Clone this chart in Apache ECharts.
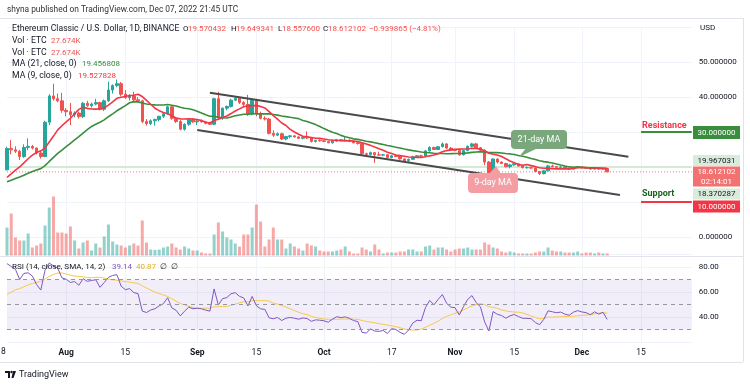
<!DOCTYPE html>
<html><head><meta charset="utf-8">
<script src="https://cdn.jsdelivr.net/npm/echarts/dist/echarts.min.js"></script>
<style>html,body{margin:0;padding:0;background:#fff}#c{width:750px;height:385px}</style>
</head><body><div id="c"></div><script>
// ---------- data ----------
const startDate = [2022, 6, 18]; // Jul 18 2022 (month 0-based)
const totalSlots = 163;          // days shown on the time axis (Jul 18 .. Dec 27)
const opens = [19.2,25.3,24.9,24.5,23.0,25.6,25.9,25.4,24.0,23.0,32.8,40.3,39.5,38.9,36.2,35.8,34.9,35.4,34.4,38.2,37.5,38.0,38.4,36.5,38.9,42.0,43.3,43.8,40.8,39.8,40.3,39.2,38.9,33.0,32.4,33.2,33.6,34.5,35.2,37.2,33.9,33.0,30.8,32.2,33.5,32.9,33.1,32.9,32.5,32.2,39.5,34.0,36.8,37.3,39.1,39.6,38.4,37.9,35.1,39.0,35.3,33.9,33.7,29.6,29.1,29.5,28.0,28.7,28.9,28.6,28.2,28.5,28.3,27.3,27.6,27.5,27.3,26.9,27.4,27.8,27.6,27.7,27.4,26.9,26.7,23.8,23.6,24.1,23.5,23.4,23.5,22.7,23.2,23.0,22.3,21.8,22.2,22.9,23.2,23.1,24.6,25.6,25.0,25.8,26.6,25.4,24.8,24.7,23.5,24.7,25.9,26.6,25.5,24.8,21.4,18.2,22.3,21.4,21.0,20.1,20.6,20.9,20.3,19.8,19.8,19.7,18.7,18.1,18.9,20.3,20.1,19.9,20.0,19.6,19.4,19.8,20.0,19.8,19.7,19.4,19.7,19.4,19.570432];
const highs = [25.8,27.7,25.9,24.9,26.5,28.2,26.3,25.6,24.6,33.2,40.8,43.8,41.0,41.2,36.8,38.3,35.9,35.8,38.6,38.9,38.4,39.5,38.6,39.3,44.4,43.6,45.0,44.3,42.0,40.8,41.5,40.0,39.2,33.7,33.6,33.8,34.6,35.5,37.5,37.6,34.2,33.4,32.5,34.0,33.9,33.4,33.6,33.1,32.9,39.8,41.5,37.0,37.6,39.5,40.3,39.9,38.8,40.6,39.3,39.5,35.8,34.5,34.0,30.5,29.9,29.8,28.9,29.1,29.0,28.8,28.7,30.2,28.5,27.8,27.9,27.7,27.5,27.6,28.0,28.0,28.6,27.9,27.5,27.2,26.9,24.1,24.4,24.3,24.4,23.7,23.6,23.4,23.5,23.1,22.5,22.4,23.2,23.4,23.5,24.9,25.9,25.8,26.0,27.0,26.8,25.7,25.0,24.9,24.9,26.2,26.9,26.9,25.7,25.0,21.7,22.5,22.4,21.6,21.2,20.9,21.2,21.0,20.5,20.2,20.0,19.8,18.9,19.1,20.6,20.7,20.3,20.3,20.2,19.8,20.0,20.3,20.2,20.0,19.8,19.9,19.9,19.8,19.649341];
const lows = [19.0,23.6,24.0,22.0,22.6,24.8,25.0,23.6,22.4,22.8,32.0,39.0,38.5,35.5,34.5,32.0,34.2,33.8,34.0,37.2,37.0,37.6,36.2,36.0,38.6,41.0,42.8,40.2,39.5,39.0,38.8,38.5,32.5,31.8,32.0,31.8,33.0,34.0,35.0,33.5,32.6,30.5,30.4,31.8,32.6,32.0,32.7,32.2,32.0,32.0,33.8,33.5,36.2,37.0,38.8,38.0,37.2,34.6,34.8,34.5,33.6,33.3,29.3,28.6,28.8,27.7,27.6,28.2,28.4,28.0,27.9,28.0,27.0,27.0,27.2,27.1,26.8,26.7,27.2,27.3,27.4,27.1,26.8,26.4,23.4,23.4,23.3,21.2,23.1,23.1,22.5,22.5,22.8,22.1,21.6,21.3,22.0,22.7,22.9,23.0,24.4,24.9,24.8,25.6,25.2,24.6,24.5,23.2,23.3,24.5,25.6,25.2,24.6,20.5,17.5,18.0,21.0,20.8,19.9,19.6,20.4,20.1,19.6,19.6,19.5,18.5,17.7,17.9,18.8,19.9,19.7,19.7,19.4,19.2,19.3,19.7,19.6,19.5,19.2,19.3,19.2,19.3,18.5576];
const closes = [25.3,24.9,24.5,23.0,25.6,25.9,25.4,24.0,23.0,32.8,40.3,39.5,38.9,36.2,35.8,34.9,35.4,34.4,38.2,37.5,38.0,38.4,36.5,38.9,42.0,43.3,43.8,40.8,39.8,40.3,39.2,38.9,33.0,32.4,33.2,33.6,34.5,35.2,37.2,33.9,33.0,30.8,32.2,33.5,32.9,33.1,32.9,32.5,32.2,39.5,34.0,36.8,37.3,39.1,39.6,38.4,37.9,35.1,39.0,35.3,33.9,33.7,29.6,29.1,29.5,28.0,28.7,28.9,28.6,28.2,28.5,28.3,27.3,27.6,27.5,27.3,26.9,27.4,27.8,27.6,27.7,27.4,26.9,26.7,23.8,23.6,24.1,23.5,23.4,23.5,22.7,23.2,23.0,22.3,21.8,22.2,22.9,23.2,23.1,24.6,25.6,25.0,25.8,26.6,25.4,24.8,24.7,23.5,24.7,25.9,26.6,25.5,24.8,21.4,18.2,22.3,21.4,21.0,20.1,20.6,20.9,20.3,19.8,19.8,19.7,18.7,18.1,18.9,20.3,20.1,19.9,20.0,19.6,19.4,19.8,20.0,19.8,19.7,19.4,19.7,19.4,19.57,18.612102];
// closes before the window (Jun 13 .. Jul 17) used only to warm up MA / RSI
const warmupCloses = [14.0,14.5,15.0,13.4,13.8,12.3,13.6,14.1,14.6,13.9,15.2,16.2,16.5,15.7,15.9,15.6,15.0,14.2,14.4,14.6,14.5,15.0,14.6,14.8,15.3,15.4,15.0,16.0,15.2,14.6,15.0,15.4,16.2,17.0,18.8];
// volume (thousand ETC)
const volumesK = [392,588,252,210,210,308,112,140,168,420,672,826,322,322,308,406,210,98,182,210,70,168,112,266,434,196,154,140,112,140,168,140,490,182,84,78,84,112,126,168,112,84,126,98,70,70,42,28,28,294,462,336,252,224,168,126,294,294,392,714,476,126,224,392,224,224,98,168,126,98,70,168,140,126,70,56,56,56,70,84,126,56,28,28,112,84,56,154,84,28,42,42,42,56,56,84,84,56,56,126,140,84,112,112,84,56,84,98,98,112,84,84,84,182,154,112,98,56,42,56,42,28,28,28,28,42,56,56,112,70,56,56,42,42,42,56,28,42,42,28,42,28,28];
// time-axis tick labels (index into days, text)
const tickIdx = [14,28,45,59,75,91,106,120,136,150];
const tickText = ['Aug','15','Sep','15','Oct','17','Nov','15','Dec','15'];
const monthTicks = ['Aug','Sep','Oct','Nov','Dec'];
const priceLabelsShown = [0,40,50];
const rsiLabelsShown = [40,60,80];
// annotation levels
const resistance = 30, support = 10;
const levelA = 19.967031, levelB = 18.370287, lastPrice = 18.612102;
const upperChannel = [[48,41.2],[147,22.9]];
const lowerChannel = [[45,30.6],[145,12.0]];
const resistanceSeg = [[150,resistance],[162,resistance]];
const supportSeg = [[150,support],[162,support]];

// ---------- derived ----------
const days = [];
for (let i = 0; i < totalSlots; i++) {
  const d = new Date(startDate[0], startDate[1], startDate[2] + i);
  days.push(d.getFullYear() + '-' + (d.getMonth()+1) + '-' + d.getDate());
}
const all = warmupCloses.concat(closes);
const W = warmupCloses.length;
function sma(arr, n, i) { let s = 0; for (let j = i-n+1; j <= i; j++) s += arr[j]; return s/n; }
const ma9 = closes.map((_, k) => +sma(all, 9, W+k).toFixed(4));
const ma21 = closes.map((_, k) => +sma(all, 21, W+k).toFixed(4));
// RSI 14 (Wilder)
const rsiAll = new Array(all.length).fill(null);
let ag = 0, al = 0;
for (let i = 1; i <= 14; i++) { const ch = all[i]-all[i-1]; ag += Math.max(ch,0); al += Math.max(-ch,0); }
ag /= 14; al /= 14; rsiAll[14] = 100 - 100/(1+ag/al);
for (let i = 15; i < all.length; i++) {
  const ch = all[i]-all[i-1];
  ag = (ag*13 + Math.max(ch,0))/14; al = (al*13 + Math.max(-ch,0))/14;
  rsiAll[i] = al === 0 ? 100 : 100 - 100/(1+ag/al);
}
const rsi = closes.map((_, k) => +rsiAll[W+k].toFixed(2));
const rsiMa = closes.map((_, k) => { let s=0; for (let j=W+k-13;j<=W+k;j++) s+=rsiAll[j]; return +(s/14).toFixed(2); });
const ohlc = closes.map((c, k) => [opens[k], c, lows[k], highs[k]]);
const UP = '#26a69a', DOWN = '#ef5350';
const vols = volumesK.map((v, k) => ({ value: v, itemStyle: { color: closes[k] >= opens[k] ? 'rgba(38,166,154,0.5)' : 'rgba(239,83,80,0.5)' } }));

// ---------- layout ----------
const F = 'Roboto, "Noto Sans", sans-serif';
const GL = 7, GR = 750 - (7 + 162*4.227);
const gridLine = '#f0f3fa';
const isTick = (i) => tickIdx.indexOf(i) >= 0;
const xBase = (gi, show) => ({
  type: 'category', gridIndex: gi, data: days, boundaryGap: false,
  axisLine: { show: false }, axisTick: { show: false },
  axisLabel: show ? {
    show: true, interval: (i) => isTick(i), margin: 6, fontFamily: F, fontSize: 8.5, color: '#131722',
    formatter: (v, i) => { const t = tickText[tickIdx.indexOf(i)]; return monthTicks.indexOf(t) >= 0 ? '{b|' + t + '}' : t; },
    rich: { b: { fontWeight: 'bold', fontSize: 8.5, fontFamily: F, color: '#131722' } }
  } : { show: false },
  splitLine: { show: true, interval: (i) => isTick(i), lineStyle: { color: gridLine, width: 1 } }
});

const chart = echarts.init(document.getElementById('c'), null, { renderer: 'canvas' });
const txt = (x, y, s, fill, size, extra) => Object.assign({ type: 'text', z: 50, style: Object.assign({ x: x, y: y, text: s, fill: fill || '#131722', font: (size || 8.5) + 'px ' + F, textVerticalAlign: 'middle' }, extra || {}) });
const box = (x, y, w, h, fill, r) => ({ type: 'rect', z: 45, shape: { x: x, y: y, width: w, height: h, r: r || 0 }, style: { fill: fill } });
const hline = (x1, x2, y, c) => ({ type: 'line', z: 40, shape: { x1: x1, y1: y, x2: x2, y2: y }, style: { stroke: c || '#e0e3eb', lineWidth: 1 } });
const vline = (x, y1, y2, c) => ({ type: 'line', z: 40, shape: { x1: x, y1: y1, x2: x, y2: y2 }, style: { stroke: c || '#e0e3eb', lineWidth: 1 } });
const LS = 8.7; // legend text size
const NS = 8;   // legend number size

const option = {
  animation: false,
  backgroundColor: '#fff',
  grid: [
    { left: GL, right: GR, top: 27, height: 210 },
    { left: GL, right: GR, top: 184.1, height: 71.4 },
    { left: GL, right: GR, top: 254.5, height: 87.5 }
  ],
  xAxis: [xBase(0, false), xBase(1, false), xBase(2, true)],
  yAxis: [
    { type: 'value', gridIndex: 0, position: 'right', min: 0, max: 60, interval: 10,
      axisLine: { show: false }, axisTick: { show: false },
      axisLabel: { margin: 7, fontFamily: F, fontSize: 8, color: '#131722', formatter: (v) => priceLabelsShown.indexOf(v) >= 0 ? v.toFixed(6) : '' },
      splitLine: { lineStyle: { color: gridLine } } },
    { type: 'value', gridIndex: 1, min: 0, max: 1000, show: false, splitLine: { show: false } },
    { type: 'value', gridIndex: 2, position: 'right', min: 20, max: 90, interval: 20,
      axisLine: { show: false }, axisTick: { show: false },
      axisLabel: { margin: 7, fontFamily: F, fontSize: 8, color: '#131722', formatter: (v) => rsiLabelsShown.indexOf(v) >= 0 ? v.toFixed(2) : '' },
      splitLine: { lineStyle: { color: gridLine } } }
  ],
  series: [
    { type: 'bar', xAxisIndex: 1, yAxisIndex: 1, data: vols, barWidth: 3, z: 1 },
    { type: 'line', xAxisIndex: 0, yAxisIndex: 0, data: days.map(() => levelA), symbol: 'none', lineStyle: { color: '#d4ead6', width: 2 }, z: 2, silent: true },
    { type: 'line', xAxisIndex: 0, yAxisIndex: 0, data: days.map(() => lastPrice), symbol: 'none', lineStyle: { color: '#ef5350', width: 1, type: [1, 2], opacity: 0.8 }, z: 2, silent: true },
    { type: 'candlestick', xAxisIndex: 0, yAxisIndex: 0, data: ohlc, barWidth: 3, clip: false, z: 5,
      itemStyle: { color: UP, color0: DOWN, borderColor: UP, borderColor0: DOWN, borderWidth: 1 } },
    { type: 'line', xAxisIndex: 0, yAxisIndex: 0, data: ma21, symbol: 'none', lineStyle: { color: '#388e3c', width: 1.6 }, z: 6 },
    { type: 'line', xAxisIndex: 0, yAxisIndex: 0, data: ma9, symbol: 'none', lineStyle: { color: '#f23645', width: 1.6 }, z: 7 },
    { type: 'line', xAxisIndex: 0, yAxisIndex: 0, data: upperChannel, symbol: 'none', lineStyle: { color: '#4a4a4a', width: 2 }, z: 8 },
    { type: 'line', xAxisIndex: 0, yAxisIndex: 0, data: lowerChannel, symbol: 'none', lineStyle: { color: '#4a4a4a', width: 2 }, z: 8 },
    { type: 'line', xAxisIndex: 0, yAxisIndex: 0, data: resistanceSeg, symbol: 'none', lineStyle: { color: '#388e3c', width: 2 }, z: 8 },
    { type: 'line', xAxisIndex: 0, yAxisIndex: 0, data: supportSeg, symbol: 'none', lineStyle: { color: '#f23645', width: 2 }, z: 8 },
    { type: 'line', xAxisIndex: 2, yAxisIndex: 2, data: rsiMa, symbol: 'none', lineStyle: { color: '#f7c948', width: 1 }, z: 3 },
    { type: 'line', xAxisIndex: 2, yAxisIndex: 2, data: rsi, symbol: 'none', lineStyle: { color: '#7e57c2', width: 1 }, z: 4,
      markArea: { silent: true, itemStyle: { color: 'rgba(126,87,194,0.1)' }, data: [[{ yAxis: 30 }, { yAxis: 70 }]] },
      markLine: { silent: true, symbol: 'none', label: { show: false }, lineStyle: { color: '#9598a1', type: [4, 4], width: 1 },
        data: [{ yAxis: 70 }, { yAxis: 50 }, { yAxis: 30 }] } }
  ],
  graphic: [
    txt(7, 10, 'shyna published on TradingView.com, Dec 07, 2022 21:45 UTC', '#333', 8.4),
    hline(0, 743, 18.5), vline(743.5, 18, 362), hline(0, 743, 362.5), hline(0, 743, 256.5),
    txt(12, 29, 'Ethereum Classic / U.S. Dollar, 1D, BINANCE', '#131722', 8.6),
    txt(183, 29, 'O', '#131722', NS), txt(188, 29, '19.570432', DOWN, NS),
    txt(231, 29, 'H', '#131722', NS), txt(236, 29, '19.649341', DOWN, NS),
    txt(278, 29, 'L', '#131722', NS), txt(282, 29, '18.557600', DOWN, NS),
    txt(323, 29, 'C', '#131722', NS), txt(328, 29, '18.612102', DOWN, NS),
    txt(369, 29, '\u22120.939865 (\u22124.81%)', DOWN, NS),
    txt(12, 41, 'Vol \u00b7 ETC', '#131722', LS), txt(51, 41, '27.674K', DOWN, NS),
    txt(12, 52.5, 'Vol \u00b7 ETC', '#131722', LS), txt(51, 52.5, '27.674K', DOWN, NS),
    txt(12, 64, 'MA (21, close, 0)', '#131722', LS), txt(82, 64, '19.456808', '#388e3c', NS),
    txt(12, 75.5, 'MA (9, close, 0)', '#131722', LS), txt(78, 75.5, '19.527828', '#f23645', NS),
    txt(700, 28, 'USD', '#131722', 8),
    txt(642, 126, 'Resistance', '#f23645', 9, { font: 'bold 9px ' + F }),
    txt(642, 194, 'Support', '#1b5e20', 9, { font: 'bold 9px ' + F }),
    box(693, 126, 47, 13, '#388e3c'), txt(716.5, 132.5, '30.000000', '#fff', 8, { textAlign: 'center' }),
    box(693, 155, 47, 11, '#d9ecdb'), txt(716.5, 160.5, '19.967031', '#131722', 8, { textAlign: 'center' }),
    box(693, 166.5, 47, 20, '#f27272'), txt(716.5, 172, '18.612102', '#fff', 8, { textAlign: 'center' }),
    txt(716.5, 181.5, '02:14:01', '#fff', 8, { textAlign: 'center' }),
    box(693, 188.5, 47, 11, '#d9ecdb'), txt(716.5, 194, '18.370287', '#131722', 8, { textAlign: 'center' }),
    box(693, 200.5, 47, 12, '#f23645'), txt(716.5, 206.5, '10.000000', '#fff', 8, { textAlign: 'center' }),
    // 21-day MA callout
    { type: 'polygon', z: 45, shape: { points: [[526, 148], [538, 148], [519, 157]] }, style: { fill: '#7aa77c' } },
    box(511, 130, 56, 19, '#7aa77c', 4), txt(539, 139.5, '21-day MA', '#fff', 9, { textAlign: 'center' }),
    // 9-day MA callout
    { type: 'polygon', z: 45, shape: { points: [[489, 174], [501, 174], [496, 166]] }, style: { fill: '#f49ea3' } },
    box(468, 173, 50, 20, '#f49ea3', 4), txt(493, 183, '9-day MA', '#fff', 9, { textAlign: 'center' }),
    // RSI legend
    txt(12, 267, 'RSI (14, close, SMA, 14, 2)', '#131722', 8.1),
    txt(112, 267, '39.14', '#7e57c2', NS), txt(136, 267, '40.87', '#e0b020', NS), txt(160, 267, '\u2205  \u2205', '#131722', NS),
    txt(1, 352, '8', '#131722', 8.5),
    // TradingView footer
    { type: 'polygon', z: 45, shape: { points: [[5, 371], [10, 371], [10, 378], [8, 378], [8, 373], [5, 373]] }, style: { fill: '#131722' } },
    { type: 'circle', z: 45, shape: { cx: 11.5, cy: 372, r: 1.2 }, style: { fill: '#131722' } },
    { type: 'polygon', z: 45, shape: { points: [[13, 371], [16, 371], [13.5, 378], [11.5, 378]] }, style: { fill: '#131722' } },
    txt(19, 375, 'TradingView', '#131722', 9)
  ]
};
chart.setOption(option);
</script></body></html>
